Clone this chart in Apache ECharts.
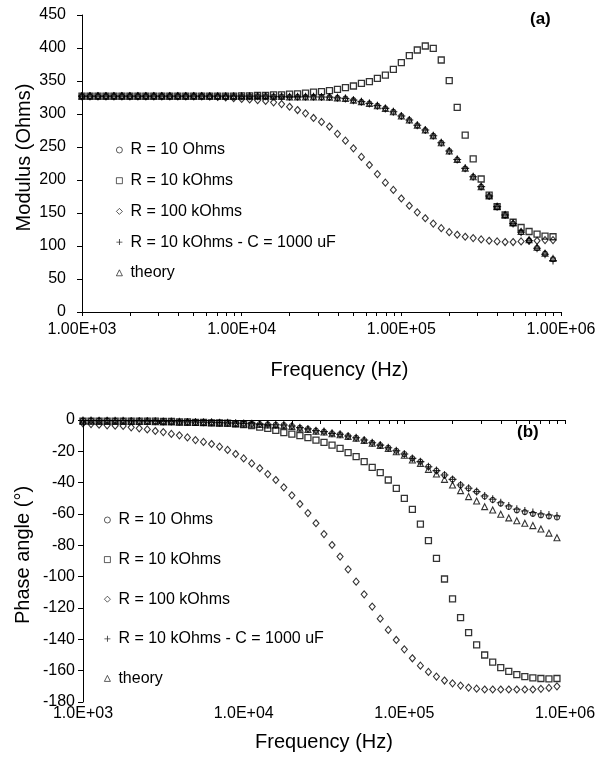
<!DOCTYPE html>
<html>
<head>
<meta charset="utf-8">
<script src="https://cdn.jsdelivr.net/npm/echarts@6/dist/echarts.min.js"></script>
<style>
html,body{margin:0;padding:0;background:#fff;}
#chart{width:607px;height:766px;}
</style>
</head>
<body>
<div id="chart"></div>
<script>
// Frequencies (Hz), 20 points per decade
const freq = [1000, 1122, 1259, 1413, 1585, 1778, 1995, 2239, 2512, 2818,
  3162, 3548, 3981, 4467, 5012, 5623, 6310, 7079, 7943, 8913,
  10000, 11220, 12589, 14125, 15849, 17783, 19953, 22387, 25119, 28184,
  31623, 35481, 39811, 44668, 50119, 56234, 63096, 70795, 79433, 89125,
  100000, 112202, 125893, 141254, 158489, 177828, 199526, 223872, 251189, 281838,
  316228, 354813, 398107, 446684, 501187, 562341, 630957, 707946, 794328, 891251];

const seriesNames = ['R = 10 Ohms', 'R = 10 kOhms', 'R = 100 kOhms', 'R = 10 kOhms - C = 1000 uF', 'theory'];

// (a) Modulus (Ohms)
const modR10 = [327, 327, 327, 327, 327, 327, 327, 327, 327, 327,
  327, 327, 327, 327, 327, 327, 327, 327, 327, 327,
  327, 327, 327, 327, 326.5, 326.5, 326, 326, 326, 326,
  325.8, 325.5, 324.5, 323.5, 321, 318.5, 316, 312.5, 308.5, 303.5,
  297, 291, 283, 275.5, 267, 256.5, 244, 231, 217.5, 205,
  190, 175.5, 159.5, 147, 134, 121, 108.5, 97, 88.5, 80];
const modR10k = [327, 327, 327, 327, 327, 327, 327, 327, 327, 327,
  327, 327, 327, 327, 327, 327, 327, 327, 327, 327,
  327.5, 327.5, 328, 328, 329, 329, 330, 330.5, 331.5, 333,
  334, 335.3, 337.3, 339.9, 342.4, 346.4, 349, 354, 359, 367.6,
  377.8, 388.3, 397, 403, 399.4, 381.8, 350.5, 310, 268, 232,
  201.5, 177, 159.6, 147, 136, 128, 122, 118, 115, 114];
const modR100k = [327, 327, 327, 327, 327, 327, 327, 327, 327, 327,
  327, 327, 327, 327, 327, 327, 326.5, 326, 325, 324,
  322.7, 322, 321, 319.7, 317.7, 315, 311, 306, 301, 294,
  288, 281, 270, 259.6, 248, 235, 222.7, 209, 196, 185,
  172, 161, 151, 142, 134, 127, 121, 117, 114, 112,
  110, 108, 107, 106, 106, 107, 108, 108, 109, 109];
const modRC = [327, 327, 327, 327, 327, 327, 327, 327, 327, 327,
  327, 327, 327, 327, 327, 327, 327, 327, 327, 327,
  327, 327, 327, 327, 326.5, 326.5, 326, 326, 326, 326,
  325.8, 325.6, 324.5, 323.5, 321, 318.7, 316, 312.6, 308.5, 303.5,
  297, 291, 283, 275.7, 267, 256.5, 244, 231, 217.7, 205,
  190, 175.7, 159.6, 147, 134, 121, 108, 96.5, 87.5, 78];
const modTheory = [327, 327, 327, 327, 327, 327, 327, 327, 327, 327,
  327, 327, 327, 327, 327, 327, 327, 327, 327, 327,
  327, 327, 327, 327, 326.5, 326.5, 326, 326, 326, 326,
  325.8, 325.6, 324.5, 323.5, 321, 318.7, 316, 312.6, 308.5, 303.5,
  297, 291, 283, 275.7, 267, 256.5, 244, 231, 217.7, 205,
  190, 175.7, 160, 147.5, 135, 122, 109.5, 98, 89, 81];

// (b) Phase angle (degrees)
const phR10 = [-0.3, -0.3, -0.4, -0.4, -0.5, -0.5, -0.6, -0.6, -0.7, -0.8,
  -0.9, -1.0, -1.1, -1.2, -1.3, -1.4, -1.5, -1.7, -1.8, -2.0,
  -2.2, -2.4, -2.6, -2.8, -3.0, -3.2, -3.8, -4.9, -5.7, -6.8,
  -7.4, -8.5, -9.1, -10.2, -11.3, -12.8, -14.5, -16.0, -17.7, -19.6,
  -21.7, -24.5, -26.6, -29.8, -32.3, -35.1, -37.9, -41.5, -43.6, -45.7,
  -48.8, -51.0, -53.3, -55.5, -57.6, -58.8, -59.9, -60.8, -61.5, -62.2];
const phR10k = [-0.7, -0.7, -0.7, -0.7, -0.7, -0.7, -0.7, -0.7, -0.7, -0.7,
  -0.9, -0.9, -1.2, -1.2, -1.5, -1.5, -1.8, -1.8, -2.0, -2.5,
  -3.0, -3.5, -4.5, -5.3, -6.6, -8.0, -9.0, -10.0, -11.3, -12.8,
  -14.3, -16.0, -18.1, -20.8, -23.4, -26.6, -30.2, -33.6, -38.3, -43.6,
  -50.0, -57.0, -66.4, -77.0, -88.3, -101.5, -114.2, -126.1, -135.7, -143.6,
  -150.0, -154.5, -158.0, -160.5, -162.5, -163.8, -164.6, -165.0, -165.2, -165.0];
const phR100k = [-2.1, -2.6, -3.0, -3.4, -3.6, -3.8, -4.7, -5.3, -6.0, -7.0,
  -7.7, -8.9, -9.8, -11.1, -12.8, -14.0, -15.3, -17.0, -19.1, -21.7,
  -24.5, -27.7, -30.8, -34.5, -38.3, -43.0, -48.1, -53.6, -59.4, -65.9,
  -72.8, -79.8, -87.2, -95.3, -103.2, -111.3, -119.1, -126.8, -134.0, -140.4,
  -146.4, -152.1, -156.8, -160.8, -163.8, -166.3, -168.1, -169.5, -170.8, -171.5,
  -172.0, -172.0, -172.0, -172.0, -172.0, -172.0, -172.0, -171.6, -171.0, -170.0];
const phRC = [-0.3, -0.3, -0.4, -0.4, -0.5, -0.5, -0.6, -0.6, -0.7, -0.8,
  -0.9, -1.0, -1.1, -1.2, -1.3, -1.4, -1.5, -1.7, -1.8, -2.0,
  -2.2, -2.4, -2.6, -2.8, -3.0, -3.2, -3.8, -4.9, -5.7, -6.8,
  -7.4, -8.5, -9.1, -10.2, -11.3, -12.8, -14.5, -16.0, -17.7, -19.6,
  -21.7, -24.5, -26.6, -29.8, -32.3, -35.1, -37.9, -41.5, -43.6, -45.7,
  -48.5, -50.6, -52.8, -54.9, -57.0, -58.1, -59.1, -60.0, -60.6, -61.3];
const phTheory = [-0.6, -0.6, -0.7, -0.7, -0.8, -0.8, -0.9, -0.9, -1.0, -1.1,
  -1.2, -1.3, -1.4, -1.5, -1.6, -1.7, -1.8, -2.0, -2.1, -2.3,
  -2.5, -2.7, -2.9, -3.1, -3.3, -3.5, -4.1, -5.2, -6.0, -7.1,
  -7.7, -8.8, -9.4, -10.5, -11.6, -13.1, -14.8, -16.3, -18.2, -20.3,
  -22.5, -25.5, -27.7, -31.5, -34.5, -37.9, -41.5, -45.1, -48.9, -51.7,
  -55.3, -57.4, -60.2, -62.5, -64.3, -65.9, -67.4, -69.6, -72.2, -75.2];

// Axis ticks / labels
const decadeTicks = [1000, 10000, 100000, 1000000];
const topXTickLabels = ['1.00E+03', '1.00E+04', '1.00E+05', '1.00E+06'];
const bottomXTickLabels = ['1.0E+03', '1.0E+04', '1.0E+05', '1.0E+06'];
const minorTickValues = [1000, 2000, 3000, 4000, 5000, 6000, 7000, 8000, 9000,
  10000, 20000, 30000, 40000, 50000, 60000, 70000, 80000, 90000,
  100000, 200000, 300000, 400000, 500000, 600000, 700000, 800000, 900000, 1000000];

const FONT = 'Liberation Sans, Arial, Helvetica, sans-serif';
const INK = '#000';
const CLEAR = 'rgba(255,255,255,0)';
const PLUS = 'path://M4.3,0h1.4v4.3h4.3v1.4h-4.3v4.3h-1.4v-4.3h-4.3v-1.4h4.3z';

const markerStyles = [
  { symbol: 'circle', symbolSize: 5, itemStyle: { color: CLEAR, borderColor: INK, borderWidth: 1.1 } },
  { symbol: 'rect', symbolSize: 6, itemStyle: { color: CLEAR, borderColor: INK, borderWidth: 1.3 } },
  { symbol: 'diamond', symbolSize: [6, 7], itemStyle: { color: CLEAR, borderColor: INK, borderWidth: 1.1 } },
  { symbol: PLUS, symbolSize: 8, itemStyle: { color: INK, borderWidth: 0 } },
  { symbol: 'triangle', symbolSize: 6, itemStyle: { color: CLEAR, borderColor: INK, borderWidth: 1.1 } }
];

const legendIcons = [
  { icon: 'circle', itemStyle: { color: CLEAR, borderColor: INK, borderWidth: 0.8 } },
  { icon: 'rect', itemStyle: { color: CLEAR, borderColor: INK, borderWidth: 0.8 } },
  { icon: 'diamond', itemStyle: { color: CLEAR, borderColor: INK, borderWidth: 0.8 } },
  { icon: PLUS, itemStyle: { color: INK, borderWidth: 0 } },
  { icon: 'triangle', itemStyle: { color: CLEAR, borderColor: INK, borderWidth: 0.8 } }
];

const topData = [modR10, modR10k, modR100k, modRC, modTheory];
const bottomData = [phR10, phR10k, phR100k, phRC, phTheory];

function makeSeries(arrs, axisIdx) {
  return arrs.map((arr, k) => Object.assign({
    type: 'scatter',
    name: seriesNames[k],
    xAxisIndex: axisIdx,
    yAxisIndex: axisIdx,
    data: freq.map((f, i) => [f, arr[i]]),
    emphasis: { disabled: true },
    z: 2 + k
  }, markerStyles[k]));
}

function xAxisDef(gridIndex, labels, nameGap, namePad, labelMargin) {
  return {
    type: 'log', logBase: 10, gridIndex: gridIndex, min: 1000, max: 1000000,
    name: 'Frequency (Hz)', nameLocation: 'middle', nameGap: nameGap, nameMoveOverlap: false,
    nameTextStyle: { fontFamily: FONT, fontSize: 20, color: '#000', padding: namePad },
    axisLine: { show: true, lineStyle: { color: '#000', width: 1 } },
    axisTick: { show: true, length: 4, customValues: minorTickValues, lineStyle: { color: '#000' } },
    axisLabel: {
      customValues: decadeTicks, margin: labelMargin,
      fontFamily: FONT, fontSize: 16, color: '#000',
      formatter: function (v) {
        const idx = decadeTicks.findIndex(t => Math.abs(t - v) / t < 1e-6);
        return idx >= 0 ? labels[idx] : '';
      }
    },
    splitLine: { show: false }
  };
}

function yAxisDef(gridIndex, min, max, interval, name, nameGap, labelMargin) {
  return {
    type: 'value', gridIndex: gridIndex, min: min, max: max, interval: interval,
    name: name, nameLocation: 'middle', nameGap: nameGap, nameRotate: 90, nameMoveOverlap: false,
    nameTextStyle: { fontFamily: FONT, fontSize: 20, color: '#000', padding: [0, 0, 0, 12] },
    axisLine: { show: true, lineStyle: { color: '#000', width: 1 } },
    axisTick: { show: true, length: 5, lineStyle: { color: '#000' } },
    axisLabel: { fontFamily: FONT, fontSize: 16, color: '#000', margin: labelMargin },
    splitLine: { show: false }
  };
}

function legendDef(left, top, gap) {
  return {
    orient: 'vertical', left: left, top: top, itemGap: gap, padding: 0,
    itemWidth: 6, itemHeight: 6, selectedMode: false,
    data: seriesNames.map((n, k) => Object.assign({ name: n }, legendIcons[k])),
    textStyle: { fontFamily: FONT, fontSize: 16, color: '#000', padding: [0, 0, 0, 3] }
  };
}

const chart = echarts.init(document.getElementById('chart'), null, { renderer: 'canvas' });
chart.setOption({
  animation: false,
  backgroundColor: '#fff',
  textStyle: { fontFamily: FONT },
  title: [
    { text: '(a)', left: 530, top: 11, padding: 0, textStyle: { fontFamily: FONT, fontSize: 17, fontWeight: 'bold', color: '#000' } },
    { text: '(b)', left: 517, top: 424, padding: 0, textStyle: { fontFamily: FONT, fontSize: 17, fontWeight: 'bold', color: '#000' } }
  ],
  grid: [
    { left: 82, right: 46, top: 15, height: 297 },
    { left: 83, right: 42, top: 420, height: 282 }
  ],
  xAxis: [
    xAxisDef(0, topXTickLabels, 48, [0, 0, 0, 36], 10),
    xAxisDef(1, bottomXTickLabels, 30, [0, 0, 0, 0], 4)
  ],
  yAxis: [
    yAxisDef(0, 0, 450, 50, 'Modulus (Ohms)', 48, 16),
    yAxisDef(1, -180, 0, 20, 'Phase angle (°)', 50, 8)
  ],
  legend: [
    legendDef(116, 142, 14.7),
    legendDef(104, 512, 23.6)
  ],
  series: makeSeries(topData, 0).concat(makeSeries(bottomData, 1))
});
</script>
</body>
</html>
